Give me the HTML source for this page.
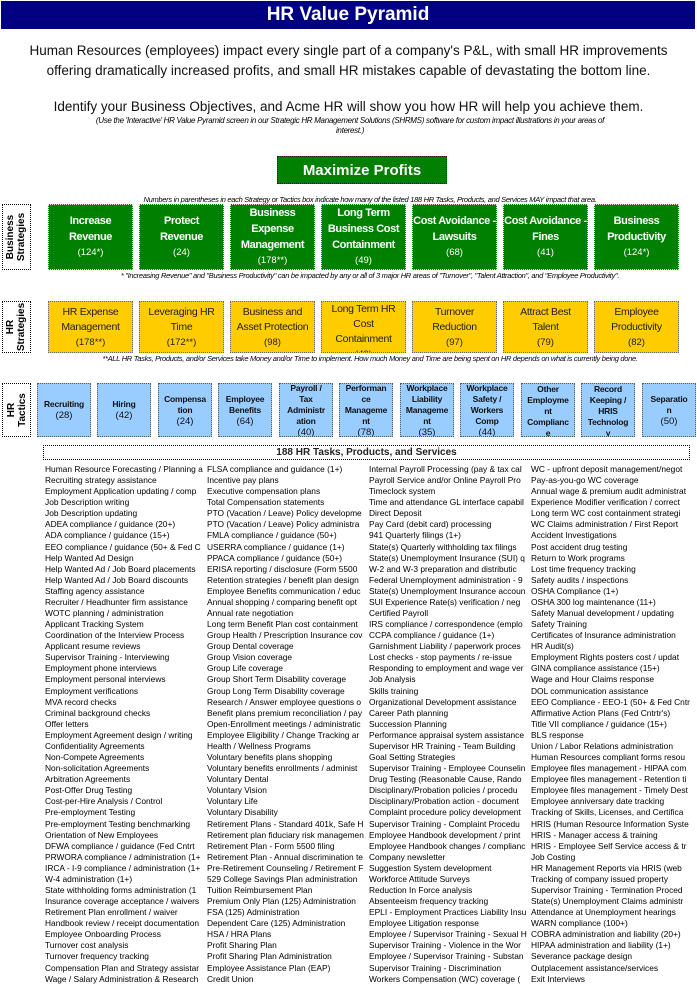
<!DOCTYPE html>
<html><head><meta charset="utf-8">
<style>
*{margin:0;padding:0;box-sizing:border-box}
body{width:697px;height:1005px;background:#fff;position:relative;overflow:hidden;font-family:"Liberation Sans",sans-serif;color:#000}
.a{position:absolute}
.c{text-align:center}
.title{left:1px;top:1px;width:694px;height:28px;background:#000080;color:#fff;font-weight:bold;font-size:19px;line-height:28px;text-align:center}
.p{left:0;width:697px;text-align:center;font-size:13.5px;line-height:20px;color:#111}
.it{font-style:italic;font-size:8px;letter-spacing:-0.3px}
.lab{left:2px;width:29px;border:1px dotted #000;display:flex;align-items:center;justify-content:center}
.lab span{transform:rotate(-90deg);white-space:nowrap;font-size:10px;font-weight:bold;line-height:11px;text-align:center;display:block}
.g{top:204px;width:85px;height:66px;background:#008000;border:1px dotted #ddd;color:#fff;font-weight:bold;font-size:11px;letter-spacing:-0.4px;line-height:16px;display:flex;flex-direction:column;justify-content:center;align-items:center;text-align:center;white-space:nowrap;overflow:hidden}
.g small,.y small,.b small{font-weight:normal;font-size:9.5px;letter-spacing:0}
.y{top:301px;width:85px;height:52px;background:#ffcc00;border:1px dotted #666;color:#222;font-size:10.5px;letter-spacing:-0.3px;line-height:15px;display:flex;flex-direction:column;justify-content:center;align-items:center;text-align:center;overflow:hidden;white-space:nowrap}
.b{top:383px;width:54px;height:54px;background:#99ccff;border:1px dotted #555;color:#111;font-weight:bold;font-size:8.5px;letter-spacing:-0.2px;line-height:11px;display:flex;flex-direction:column;justify-content:center;align-items:center;text-align:center;overflow:hidden;white-space:nowrap}
.col{top:464px;width:160px;font-size:8.4px;line-height:11.08px;white-space:nowrap;overflow:hidden}
</style></head><body>
<div class="a title">HR Value Pyramid</div>
<div class="a p" style="top:41px">Human Resources (employees) impact every single part of a company's P&amp;L, with small HR improvements<br>offering dramatically increased profits, and small HR mistakes capable of devastating the bottom line.</div>
<div class="a p" style="top:97px">Identify your Business Objectives, and Acme HR will show you how HR will help you achieve them.</div>
<div class="a it c" style="left:20px;width:660px;top:116px;line-height:10px">(Use the 'Interactive' HR Value Pyramid screen in our Strategic HR Management Solutions (SHRMS) software for custom impact illustrations in your areas of<br>interest.)</div>

<div class="a" style="left:277px;top:156px;width:170px;height:28px;background:#008000;border:1px dotted #222;color:#fff;font-weight:bold;font-size:15px;line-height:27px;text-align:center">Maximize Profits</div>
<div class="a it c" style="left:60px;width:620px;top:195px;font-size:7.5px">Numbers in parentheses in each Strategy or Tactics box indicate how many of the listed 188 HR Tasks, Products, and Services MAY impact that area.</div>

<div class="a lab" style="top:204px;height:66px"><span>Business<br>Strategies</span></div>
<div class="a g" style="left:48px">Increase<br>Revenue<small>(124*)</small></div>
<div class="a g" style="left:139px">Protect<br>Revenue<small>(24)</small></div>
<div class="a g" style="left:230px">Business<br>Expense<br>Management<small>(178**)</small></div>
<div class="a g" style="left:321px">Long Term<br>Business Cost<br>Containment<small>(49)</small></div>
<div class="a g" style="left:412px">Cost Avoidance -<br>Lawsuits<small>(68)</small></div>
<div class="a g" style="left:503px">Cost Avoidance -<br>Fines<small>(41)</small></div>
<div class="a g" style="left:594px">Business<br>Productivity<small>(124*)</small></div>
<div class="a it c" style="left:60px;width:620px;top:271px;font-size:7.5px">* "Increasing Revenue" and "Business Productivity" can be impacted by any or all of 3 major HR areas of "Turnover", "Talent Attraction", and "Employee Productivity".</div>

<div class="a lab" style="top:301px;height:52px"><span>HR<br>Strategies</span></div>
<div class="a y" style="left:48px">HR Expense<br>Management<small>(178**)</small></div>
<div class="a y" style="left:139px">Leveraging HR<br>Time<small>(172**)</small></div>
<div class="a y" style="left:230px">Business and<br>Asset Protection<small>(98)</small></div>
<div class="a y" style="left:321px;justify-content:flex-start;padding-top:0">Long Term HR<br>Cost<br>Containment<small>(49)</small></div>
<div class="a y" style="left:412px">Turnover<br>Reduction<small>(97)</small></div>
<div class="a y" style="left:503px">Attract Best<br>Talent<small>(79)</small></div>
<div class="a y" style="left:594px">Employee<br>Productivity<small>(82)</small></div>
<div class="a it c" style="left:40px;width:660px;top:354px;font-size:7.5px">**ALL HR Tasks, Products, and/or Services take Money and/or Time to implement. How much Money and Time are being spent on HR depends on what is currently being done.</div>

<div class="a lab" style="top:383px;height:54px"><span>HR<br>Tactics</span></div>
<div class="a b" style="left:37px">Recruiting<small>(28)</small></div>
<div class="a b" style="left:97px">Hiring<small>(42)</small></div>
<div class="a b" style="left:158px">Compensa<br>tion<small>(24)</small></div>
<div class="a b" style="left:218px">Employee<br>Benefits<small>(64)</small></div>
<div class="a b" style="left:279px">Payroll /<br>Tax<br>Administr<br>ation<small>(40)</small></div>
<div class="a b" style="left:339px">Performan<br>ce<br>Manageme<br>nt<small>(78)</small></div>
<div class="a b" style="left:400px">Workplace<br>Liability<br>Manageme<br>nt<small>(35)</small></div>
<div class="a b" style="left:460px">Workplace<br>Safety /<br>Workers<br>Comp<small>(44)</small></div>
<div class="a b" style="left:521px;justify-content:flex-start">Other<br>Employme<br>nt<br>Complianc<br>e</div>
<div class="a b" style="left:581px;justify-content:flex-start">Record<br>Keeping /<br>HRIS<br>Technolog<br>y</div>
<div class="a b" style="left:642px">Separatio<br>n<small>(50)</small></div>

<div class="a c" style="left:43px;top:445px;width:647px;height:15px;border:1px dotted #000;font-size:10px;font-weight:bold;line-height:13px;color:#222">188 HR Tasks, Products, and Services</div>

<div class="a col" style="left:45px">Human Resource Forecasting / Planning a<br>Recruiting strategy assistance<br>Employment Application updating / comp<br>Job Description writing<br>Job Description updating<br>ADEA compliance / guidance (20+)<br>ADA compliance / guidance (15+)<br>EEO compliance / guidance (50+ &amp; Fed C<br>Help Wanted Ad Design<br>Help Wanted Ad / Job Board placements<br>Help Wanted Ad / Job Board discounts<br>Staffing agency assistance<br>Recruiter / Headhunter firm assistance<br>WOTC planning / administration<br>Applicant Tracking System<br>Coordination of the Interview Process<br>Applicant resume reviews<br>Supervisor Training - Interviewing<br>Employment phone interviews<br>Employment personal interviews<br>Employment verifications<br>MVA record checks<br>Criminal background checks<br>Offer letters<br>Employment Agreement design / writing<br>Confidentiality Agreements<br>Non-Compete Agreements<br>Non-solicitation Agreements<br>Arbitration Agreements<br>Post-Offer Drug Testing<br>Cost-per-Hire Analysis / Control<br>Pre-employment Testing<br>Pre-employment Testing benchmarking<br>Orientation of New Employees<br>DFWA compliance / guidance (Fed Cntrt<br>PRWORA compliance / administration (1+<br>IRCA - I-9 compliance / administration (1+<br>W-4 administration (1+)<br>State withholding forms administration (1<br>Insurance coverage acceptance / waivers<br>Retirement Plan enrollment / waiver<br>Handbook review / receipt documentation<br>Employee Onboarding Process<br>Turnover cost analysis<br>Turnover frequency tracking<br>Compensation Plan and Strategy assistar<br>Wage / Salary Administration &amp; Research</div>

<div class="a col" style="left:207px">FLSA compliance and guidance (1+)<br>Incentive pay plans<br>Executive compensation plans<br>Total Compensation statements<br>PTO (Vacation / Leave) Policy developme<br>PTO (Vacation / Leave) Policy administra<br>FMLA compliance / guidance (50+)<br>USERRA compliance / guidance (1+)<br>PPACA compliance / guidance (50+)<br>ERISA reporting / disclosure (Form 5500<br>Retention strategies / benefit plan design<br>Employee Benefits communication / educ<br>Annual shopping / comparing benefit opt<br>Annual rate negotiation<br>Long term Benefit Plan cost containment<br>Group Health / Prescription Insurance cov<br>Group Dental coverage<br>Group Vision coverage<br>Group Life coverage<br>Group Short Term Disability coverage<br>Group Long Term Disability coverage<br>Research / Answer employee questions o<br>Benefit plans premium reconciliation / pay<br>Open-Enrollment meetings / administratic<br>Employee Eligibility / Change Tracking ar<br>Health / Wellness Programs<br>Voluntary benefits plans shopping<br>Voluntary benefits enrollments / administ<br>Voluntary Dental<br>Voluntary Vision<br>Voluntary Life<br>Voluntary Disability<br>Retirement Plans - Standard 401k, Safe H<br>Retirement plan fiduciary risk managemen<br>Retirement Plan - Form 5500 filing<br>Retirement Plan - Annual discrimination te<br>Pre-Retirement Counseling / Retirement F<br>529 College Savings Plan administration<br>Tuition Reimbursement Plan<br>Premium Only Plan (125) Administration<br>FSA (125) Administration<br>Dependent Care (125) Administration<br>HSA / HRA Plans<br>Profit Sharing Plan<br>Profit Sharing Plan Administration<br>Employee Assistance Plan (EAP)<br>Credit Union</div>

<div class="a col" style="left:369px">Internal Payroll Processing (pay &amp; tax cal<br>Payroll Service and/or Online Payroll Pro<br>Timeclock system<br>Time and attendance GL interface capabil<br>Direct Deposit<br>Pay Card (debit card) processing<br>941 Quarterly filings (1+)<br>State(s) Quarterly withholding tax filings<br>State(s) Unemployment Insurance (SUI) q<br>W-2 and W-3 preparation and distributic<br>Federal Unemployment administration - 9<br>State(s) Unemployment Insurance accoun<br>SUI Experience Rate(s) verification / neg<br>Certified Payroll<br>IRS compliance / correspondence (emplo<br>CCPA compliance / guidance (1+)<br>Garnishment Liability / paperwork proces<br>Lost checks - stop payments / re-issue<br>Responding to employment and wage ver<br>Job Analysis<br>Skills training<br>Organizational Development assistance<br>Career Path planning<br>Succession Planning<br>Performance appraisal system assistance<br>Supervisor HR Training - Team Building<br>Goal Setting Strategies<br>Supervisor Training - Employee Counselin<br>Drug Testing (Reasonable Cause, Rando<br>Disciplinary/Probation policies / procedu<br>Disciplinary/Probation action - document<br>Complaint procedure policy development<br>Supervisor Training - Complaint Procedu<br>Employee Handbook development / print<br>Employee Handbook changes / complianc<br>Company newsletter<br>Suggestion System development<br>Workforce Attitude Surveys<br>Reduction In Force analysis<br>Absenteeism frequency tracking<br>EPLI - Employment Practices Liability Insu<br>Employee Litigation response<br>Employee / Supervisor Training - Sexual H<br>Supervisor Training - Violence in the Wor<br>Employee / Supervisor Training - Substan<br>Supervisor Training - Discrimination<br>Workers Compensation (WC) coverage (</div>

<div class="a col" style="left:531px">WC - upfront deposit management/negot<br>Pay-as-you-go WC coverage<br>Annual wage &amp; premium audit administrat<br>Experience Modifier verification / correct<br>Long term WC cost containment strategi<br>WC Claims administration / First Report<br>Accident Investigations<br>Post accident drug testing<br>Return to Work programs<br>Lost time frequency tracking<br>Safety audits / inspections<br>OSHA Compliance (1+)<br>OSHA 300 log maintenance (11+)<br>Safety Manual development / updating<br>Safety Training<br>Certificates of Insurance administration<br>HR Audit(s)<br>Employment Rights posters cost / updat<br>GINA compliance assistance (15+)<br>Wage and Hour Claims response<br>DOL communication assistance<br>EEO Compliance - EEO-1 (50+ &amp; Fed Cntr<br>Affirmative Action Plans (Fed Cntrtr's)<br>Title VII compliance / guidance (15+)<br>BLS response<br>Union / Labor Relations administration<br>Human Resources compliant forms resou<br>Employee files management - HIPAA com<br>Employee files management - Retention ti<br>Employee files management - Timely Dest<br>Employee anniversary date tracking<br>Tracking of Skills, Licenses, and Certifica<br>HRIS (Human Resource Information Syste<br>HRIS - Manager access &amp; training<br>HRIS - Employee Self Service access &amp; tr<br>Job Costing<br>HR Management Reports via HRIS (web<br>Tracking of company issued property<br>Supervisor Training - Termination Proced<br>State(s) Unemployment Claims administr<br>Attendance at Unemployment hearings<br>WARN compliance (100+)<br>COBRA administration and liability (20+)<br>HIPAA administration and liability (1+)<br>Severance package design<br>Outplacement assistance/services<br>Exit Interviews</div>
</body></html>
